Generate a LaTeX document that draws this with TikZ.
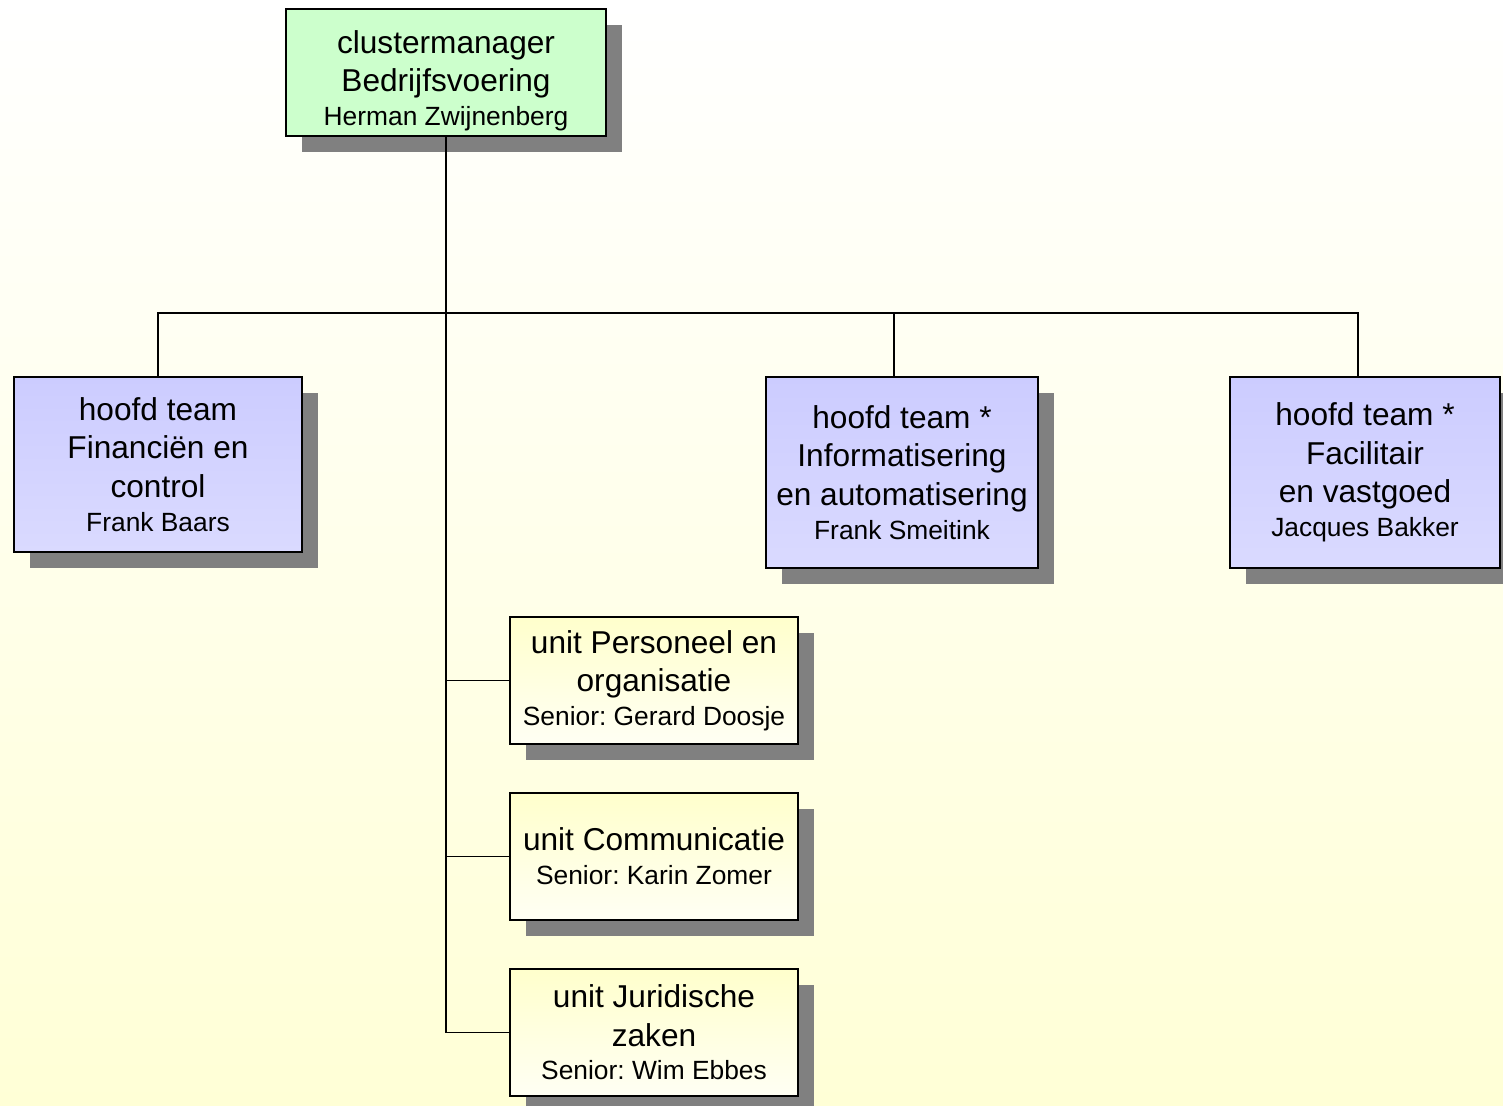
\documentclass[tikz,border=0pt]{standalone}
\usepackage{fontspec}
\setmainfont{Liberation Sans}
\usetikzlibrary{shadows}
\frenchspacing

\definecolor{bgtop}{HTML}{FFFFFF}
\definecolor{bgbot}{HTML}{FFFFD6}
\definecolor{grn}{HTML}{CCFFCC}
\definecolor{blutop}{HTML}{CCCCFF}
\definecolor{blubot}{HTML}{DADAFF}
\definecolor{yeltop}{HTML}{FFFFCC}
\definecolor{yelbot}{HTML}{FFFFF4}

\newcommand{\hd}{\fontsize{18}{21.8}\selectfont}
\newcommand{\nm}{\fontsize{15}{18}\selectfont}
\newcommand{\oben}{\rule{0pt}{22.5pt}}

\tikzset{
  box/.style={draw=black, line width=0.8pt, align=center, inner sep=0pt, font=\hd,
    drop shadow={fill=black!50, opacity=1, shadow xshift=0.32cm, shadow yshift=-0.32cm}},
  mgr/.style={box, fill=grn, minimum width=6.4cm, minimum height=2.54cm},
  hoofd/.style={box, top color=blutop, bottom color=blubot, minimum width=5.44cm, minimum height=3.82cm},
  unit/.style={box, top color=yeltop, bottom color=yelbot, minimum width=5.76cm, minimum height=2.54cm},
  lijn/.style={draw=black, line width=0.8pt}
}

\begin{document}
\begin{tikzpicture}[x=0.02cm, y=-0.02cm]
\useasboundingbox (0,0) rectangle (1503,1105);
\shade[top color=bgtop, bottom color=bgbot] (0,0) rectangle (1503,1105);

% top
\node[mgr] (cm) at (446,72.5) {\oben clustermanager\\Bedrijfsvoering\\[-2.5pt]\nm Herman Zwijnenberg};

% hoofden
\node[hoofd, minimum width=5.76cm, minimum height=3.5cm] (fin) at (158,464.5)
  {hoofd team\\Financiën en\\control\\[-2.5pt]\nm Frank Baars};
\node[hoofd] (ia) at (902,472.5)
  {hoofd team *\\Informatisering\\en automatisering\\[-2.5pt]\nm Frank Smeitink};
\node[hoofd, minimum width=5.4cm] (fac) at (1365,472.5)
  {hoofd team *\\Facilitair\\en vastgoed\\[-2.5pt]\nm Jacques Bakker};

% units
\node[unit] (po) at (654,680.5) {unit Personeel en\\organisatie\\[-2.5pt]\nm Senior: Gerard Doosje};
\node[unit] (com) at (654,856.5) {unit Communicatie\\[-2.5pt]\nm Senior: Karin Zomer};
\node[unit] (jur) at (654,1032.5) {unit Juridische\\zaken\\[-2.5pt]\nm Senior: Wim Ebbes};

% lijnen
\coordinate (bus) at (446,313);
\draw[lijn] (cm.south) |- (jur.west);
\draw[lijn] (fin.north) |- (bus) -| ([xshift=-0.14cm]fac.north);
\draw[lijn] ([xshift=-0.16cm]ia.north) -- ([xshift=-0.16cm]ia.north |- bus);
\draw[lijn] (po.west) -- (po.west -| cm.south);
\draw[lijn] (com.west) -- (com.west -| cm.south);
\end{tikzpicture}
\end{document}
